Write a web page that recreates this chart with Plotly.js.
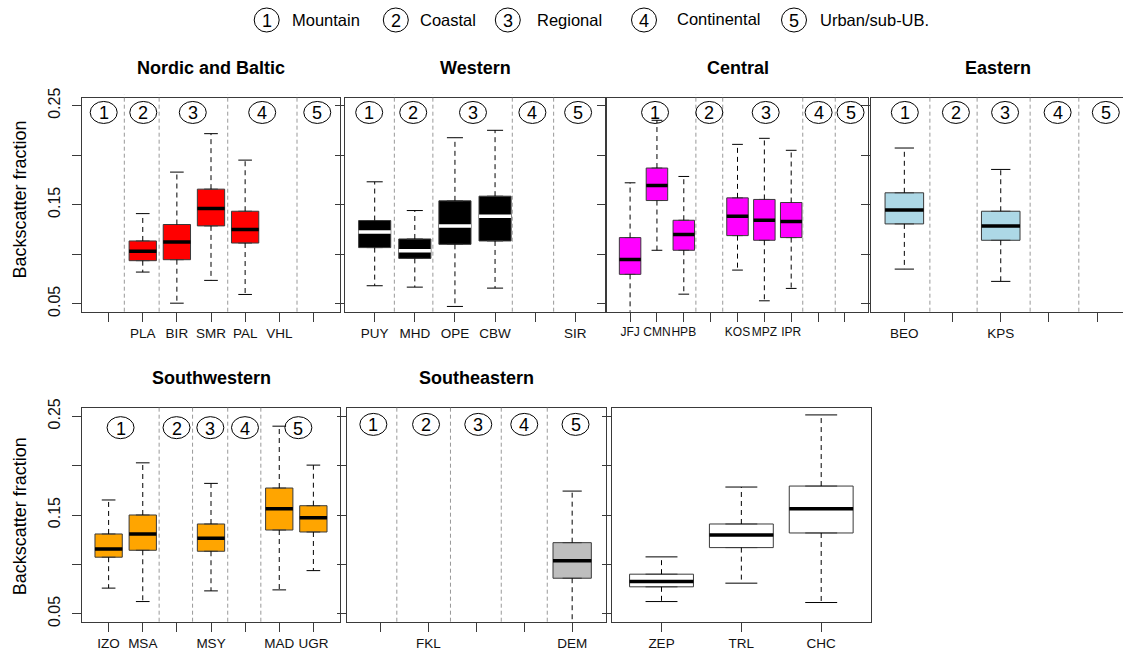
<!DOCTYPE html>
<html><head><meta charset="utf-8">
<script src="https://cdn.plot.ly/plotly-3.0.1.min.js"></script>
<style>html,body{margin:0;padding:0;background:#fff;}#chart{width:1123px;height:657px;}</style>
</head><body><div id="chart"></div>
<script>
// ---------------- DATA ----------------
const legendNumbers = ['1','2','3','4','5'];
const legendLabels = ['Mountain','Coastal','Regional','Continental','Urban/sub-UB.'];

const nordicTicks = ['', 'PLA', 'BIR', 'SMR', 'PAL', 'VHL', ''];
const nordicStations = ['PLA', 'BIR', 'SMR', 'PAL'];
const nordicLow  = [0.082, 0.0506, 0.0736, 0.0594];
const nordicQ1   = [0.0935, 0.0945, 0.1286, 0.1113];
const nordicMed  = [0.103, 0.1123, 0.1461, 0.1249];
const nordicQ3   = [0.1134, 0.130, 0.1657, 0.1434];
const nordicHigh = [0.141, 0.1829, 0.2217, 0.195];

const westernTicks = ['PUY', 'MHD', 'OPE', 'CBW', '', 'SIR'];
const westernStations = ['PUY', 'MHD', 'OPE', 'CBW'];
const westernLow  = [0.0682, 0.0668, 0.0473, 0.0658];
const westernQ1   = [0.1067, 0.0958, 0.110, 0.1134];
const westernMed  = [0.1225, 0.1036, 0.1286, 0.1384];
const westernQ3   = [0.134, 0.1154, 0.1539, 0.1586];
const westernHigh = [0.1731, 0.1441, 0.2176, 0.2251];

const centralTicks = ['JFJ', 'CMN', 'HPB', '', 'KOS', 'MPZ', 'IPR', '', ''];
const centralStations = ['JFJ', 'CMN', 'HPB', 'KOS', 'MPZ', 'IPR'];
const centralLow  = [0.035, 0.104, 0.0597, 0.084, 0.053, 0.0655];
const centralQ1   = [0.0797, 0.1542, 0.104, 0.1188, 0.1141, 0.1168];
const centralMed  = [0.0948, 0.1694, 0.1198, 0.1384, 0.1343, 0.133];
const centralQ3   = [0.1168, 0.187, 0.1343, 0.1569, 0.1553, 0.1522];
const centralHigh = [0.1721, 0.2352, 0.1785, 0.2109, 0.217, 0.2049];

const easternTicks = ['BEO', '', 'KPS', '', ''];
const easternStations = ['BEO', 'KPS'];
const easternLow  = [0.085, 0.0726];
const easternQ1   = [0.1306, 0.1141];
const easternMed  = [0.1447, 0.1286];
const easternQ3   = [0.162, 0.1434];
const easternHigh = [0.2072, 0.1856];

const swTicks = ['IZO', 'MSA', '', 'MSY', '', 'MAD', 'UGR'];
const swStations = ['IZO', 'MSA', 'MSY', 'MAD', 'UGR'];
const swLow  = [0.076, 0.0624, 0.0732, 0.0742, 0.0937];
const swQ1   = [0.1073, 0.1143, 0.1133, 0.1348, 0.1328];
const swMed  = [0.1157, 0.1308, 0.1265, 0.1564, 0.1473];
const swQ3   = [0.1308, 0.150, 0.1409, 0.1773, 0.1594];
const swHigh = [0.1652, 0.2028, 0.182, 0.2399, 0.2005];

const seTicks = ['', 'FKL', '', '', 'DEM'];
const seStations = ['DEM'];
const seLow  = [0.035];
const seQ1   = [0.086];
const seMed  = [0.1038];
const seQ3   = [0.122];
const seHigh = [0.1742];

const otherTicks = ['ZEP', 'TRL', 'CHC'];
const otherStations = ['ZEP', 'TRL', 'CHC'];
const otherLow  = [0.0624, 0.081, 0.0614];
const otherQ1   = [0.0773, 0.117, 0.1318];
const otherMed  = [0.0826, 0.1298, 0.1564];
const otherQ3   = [0.0901, 0.1409, 0.1793];
const otherHigh = [0.1076, 0.1783, 0.2513];

const yTickVals = [0.05, 0.10, 0.15, 0.20, 0.25];
const yTickText = ['0.05', '', '0.15', '', '0.25'];

// ---------------- LAYOUT CONFIG ----------------
const W = 1123, H = 657;
const FONT = 'Liberation Sans, Arial, sans-serif';
const px = x => x / W;
const py = y => 1 - y / H;

const panels = [
  {title:'Nordic and Baltic', ticks:nordicTicks, st:nordicStations, lo:nordicLow, q1:nordicQ1, med:nordicMed, q3:nordicQ3, hi:nordicHigh,
   fill:'#FF0000', medColor:'#000000', xpx:[82,340], ypx:[97.7,311.7], div:[1.46,2.48,4.49,6.52], circ:[0.856,2.016,3.466,5.5,7.114], cy:0.2431, labels:true},
  {title:'Western', ticks:westernTicks, st:westernStations, lo:westernLow, q1:westernQ1, med:westernMed, q3:westernQ3, hi:westernHigh,
   fill:'#000000', medColor:'#FFFFFF', xpx:[345,605], ypx:[97.7,311.7], div:[1.49,2.45,4.43,5.46], circ:[0.863,1.96,3.45,4.93,6.07], cy:0.2431},
  {title:'Central', ticks:centralTicks, st:centralStations, lo:centralLow, q1:centralQ1, med:centralMed, q3:centralQ3, hi:centralHigh,
   fill:'#FF00FF', medColor:'#000000', xpx:[607,868], ypx:[97.7,311.7], div:[3.45,4.45,7.43,8.64], circ:[1.93,3.95,6.05,8.02,9.21], cy:0.2431, tickSize:12},
  {title:'Eastern', ticks:easternTicks, st:easternStations, lo:easternLow, q1:easternQ1, med:easternMed, q3:easternQ3, hi:easternHigh,
   fill:'#ADD8E6', medColor:'#000000', xpx:[870.6,1123], ypx:[97.7,311.7], div:[1.53,2.51,3.61,4.62], circ:[1.01,2.07,3.09,4.18,5.18], cy:0.2431,
   range:[0.3, 0.3 + (1123-870.6)/48.2], noRight:true},
  {title:'Southwestern', ticks:swTicks, st:swStations, lo:swLow, q1:swQ1, med:swMed, q3:swQ3, hi:swHigh,
   fill:'#FFA500', medColor:'#000000', xpx:[82,340], ypx:[408.3,621.7], div:[2.48,3.46,4.49,5.46], circ:[1.35,2.99,3.98,4.996,6.56], cy:0.2384, labels:true},
  {title:'Southeastern', ticks:seTicks, st:seStations, lo:seLow, q1:seQ1, med:seMed, q3:seQ3, hi:seHigh,
   fill:'#BEBEBE', medColor:'#000000', xpx:[347,605.7], ypx:[408.3,621.7], div:[1.34,2.46,3.52,4.48], circ:[0.85,1.95,3.04,4.0,5.07], cy:0.2417},
  {title:'', ticks:otherTicks, st:otherStations, lo:otherLow, q1:otherQ1, med:otherMed, q3:otherQ3, hi:otherHigh,
   fill:'#FFFFFF', medColor:'#000000', xpx:[612,870.7], ypx:[408.3,621.7], div:[], circ:[], cy:0.24}
];

const data = [];
const shapes = [];
const annotations = [];
const layout = {
  width: W, height: H, margin:{l:0,r:0,t:0,b:0}, paper_bgcolor:'#fff', plot_bgcolor:'#fff',
  showlegend:false, boxmode:'overlay', font:{family:FONT, color:'#000'}
};

const lineCol = '#3a3a3a';

panels.forEach((p, i) => {
  const s = i === 0 ? '' : String(i + 1);
  const xa = 'x' + s, ya = 'y' + s;
  const n = p.ticks.length;
  const xs = p.st.map(st => p.ticks.indexOf(st) + 1);

  data.push({type:'box', orientation:'v', x:xs, q1:p.q1, median:p.med, q3:p.q3,
    lowerfence:p.q1, upperfence:p.q3, width:0.8, boxpoints:false,
    fillcolor:p.fill, line:{color:lineCol, width:1}, xaxis:xa, yaxis:ya, hoverinfo:'skip'});

  const wx = [], wy = [], cx = [], cyy = [], mx = [], my = [];
  xs.forEach((x, k) => {
    wx.push(x, x, null, x, x, null);
    wy.push(p.q3[k], p.hi[k], null, p.q1[k], p.lo[k], null);
    cx.push(x - 0.2, x + 0.2, null, x - 0.2, x + 0.2, null);
    cyy.push(p.hi[k], p.hi[k], null, p.lo[k], p.lo[k], null);
    mx.push(x - 0.4, x + 0.4, null);
    my.push(p.med[k], p.med[k], null);
  });
  data.push({type:'scatter', mode:'lines', x:wx, y:wy, line:{color:'#000', width:1, dash:'5px,4px'}, xaxis:xa, yaxis:ya, hoverinfo:'skip'});
  data.push({type:'scatter', mode:'lines', x:cx, y:cyy, line:{color:'#000', width:1}, xaxis:xa, yaxis:ya, hoverinfo:'skip'});
  data.push({type:'scatter', mode:'lines', x:mx, y:my, line:{color:p.medColor, width:3.5}, xaxis:xa, yaxis:ya, hoverinfo:'skip'});

  const range = p.range || [0.5 - 0.04 * n, n + 0.5 + 0.04 * n];
  layout['xaxis' + s] = {
    domain:[px(p.xpx[0]), Math.min(1, px(p.xpx[1]))], range:range, anchor:ya,
    tickmode:'array', tickvals:p.ticks.map((t, k) => k + 1), ticktext:p.ticks, tickangle:0,
    ticks:'outside', ticklen:9, tickcolor:lineCol, tickwidth:1,
    showline:true, linecolor:lineCol, linewidth:1, mirror:true,
    showgrid:false, zeroline:false, fixedrange:true,
    tickfont:{family:FONT, size:p.tickSize || 13.5, color:'#111'}
  };
  layout['yaxis' + s] = {
    domain:[py(p.ypx[1]), py(p.ypx[0])], range:[0.042, 0.258], anchor:xa,
    tickmode:'array', tickvals:yTickVals, ticktext:yTickText, tickangle:-90,
    showticklabels:!!p.labels, ticklabelstandoff:6,
    ticks:'outside', ticklen:9, tickcolor:lineCol, tickwidth:1,
    showline:true, linecolor:lineCol, linewidth:1, mirror:!p.noRight,
    showgrid:false, zeroline:false, fixedrange:true,
    tickfont:{family:FONT, size:16, color:'#111'}
  };

  p.div.forEach(d => shapes.push({type:'line', xref:xa, yref:ya + ' domain', x0:d, x1:d, y0:0, y1:1.015,
    line:{color:'#999', width:1, dash:'4px,3px'}, layer:'above'}));

  p.circ.forEach((c, k) => {
    shapes.push({type:'circle', xref:xa, yref:ya, xsizemode:'pixel', ysizemode:'pixel',
      xanchor:c, yanchor:p.cy, x0:-13.5, x1:13.5, y0:-11, y1:11,
      line:{color:'#000', width:1}, fillcolor:'rgba(0,0,0,0)'});
    annotations.push({xref:xa, yref:ya, x:c, y:p.cy, text:legendNumbers[k], showarrow:false,
      font:{family:FONT, size:18, color:'#000'}, xanchor:'center', yanchor:'middle', yshift:-1});
  });

  if (p.title) {
    const cxp = (p.xpx[0] + (p.noRight ? 1126 : p.xpx[1])) / 2;
    annotations.push({xref:'paper', yref:'paper', x:px(cxp), y:py(p.ypx[0] - 30), text:'<b>' + p.title + '</b>',
      showarrow:false, xanchor:'center', yanchor:'middle', font:{family:FONT, size:18, color:'#000'}});
  }
});

// y-axis titles
[[200], [516.7]].forEach(v => annotations.push({xref:'paper', yref:'paper', x:px(19.5), y:py(v[0]),
  text:'Backscatter fraction', textangle:-90, showarrow:false, xanchor:'center', yanchor:'middle',
  font:{family:FONT, size:18, color:'#000'}}));

// top legend
const legCircleX = [266.7, 395.8, 507.8, 644, 794];
const legTextX = [290, 418.3, 535, 675, 818.3];
const legTextY = [20, 20, 20, 18.5, 20];
legendNumbers.forEach((num, k) => {
  const cx = legCircleX[k], cy = 20;
  shapes.push({type:'circle', xref:'paper', yref:'paper', x0:px(cx - 12.5), x1:px(cx + 12.5), y0:py(cy + 12), y1:py(cy - 12),
    line:{color:'#000', width:1}, fillcolor:'rgba(0,0,0,0)'});
  annotations.push({xref:'paper', yref:'paper', x:px(cx), y:py(cy), text:num, showarrow:false,
    xanchor:'center', yanchor:'middle', yshift:-1, font:{family:FONT, size:18, color:'#000'}});
  annotations.push({xref:'paper', yref:'paper', x:px(legTextX[k]), y:py(legTextY[k]), text:legendLabels[k], showarrow:false,
    xanchor:'left', yanchor:'middle', font:{family:FONT, size:16.5, color:'#000'}});
});

layout.shapes = shapes;
layout.annotations = annotations;

Plotly.newPlot('chart', data, layout, {displayModeBar:false, staticPlot:true});
</script>
</body></html>
